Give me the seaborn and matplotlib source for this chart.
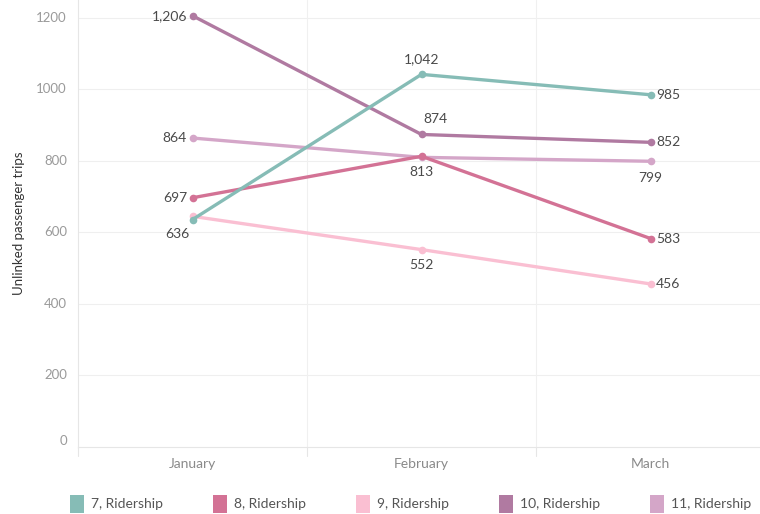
import matplotlib
matplotlib.use("Agg")
import matplotlib.pyplot as plt
import seaborn as sns
import pandas as pd
from matplotlib.patches import Patch

months = ["January", "February", "March"]
series_names = ["7, Ridership", "8, Ridership", "9, Ridership", "10, Ridership", "11, Ridership"]
r7 = [636, 1042, 985]
r8 = [697, 813, 583]
r9 = [645, 552, 456]
r10 = [1206, 874, 852]
r11 = [864, 810, 799]
colors = ["#86BCB6", "#D37295", "#FABFD2", "#B07AA1", "#D4A6C8"]
yticks = [0, 200, 400, 600, 800, 1000, 1200]

values = [r7, r8, r9, r10, r11]
rows = []
for name, vals in zip(series_names, values):
    for m, v in zip(months, vals):
        rows.append({"Month": m, "Series": name, "Value": v})
df = pd.DataFrame(rows)

sns.set_theme(style="white")
plt.rcParams["font.family"] = ["Lato", "DejaVu Sans"]

fig = plt.figure(figsize=(7.6, 5.14), dpi=100)
ax = fig.add_axes([78/760, (514-447)/514, 687/760, 447/514])

sns.lineplot(data=df, x="Month", y="Value", hue="Series", palette=colors,
             hue_order=series_names, marker="o", markersize=5.5, markeredgewidth=0,
             linewidth=2.4, ax=ax, legend=False, sort=False)
# first series drawn on top
for i, ln in enumerate(ax.get_lines()):
    ln.set_zorder(10 - i)

ax.set_xlim(-0.5, 2.5)
ax.set_ylim(0, 1250)
ax.set_yticks(yticks)
ax.set_yticklabels([str(t) for t in yticks], color="#9a9a9a", fontsize=9.5)
ax.set_xticks([0, 1, 2])
ax.set_xticklabels(months, color="#8a8a8a", fontsize=10)
ax.tick_params(axis="x", length=0, pad=8)
ax.tick_params(axis="y", length=4, color="#e6e6e6", pad=4)
ax.set_xlabel("")
ax.set_ylabel("Unlinked passenger trips", fontsize=9.5, color="#333333", labelpad=8)
ylabs = ax.get_yticklabels()
ylabs[0].set_verticalalignment("bottom")
for t in ylabs[1:]:
    t.set_verticalalignment("center")

for y in yticks[1:]:
    ax.axhline(y, color="#efefef", linewidth=0.8, zorder=0)
for x in [0.5, 1.5]:
    ax.axvline(x, color="#f0f0f0", linewidth=0.8, zorder=0)
    ax.plot([x, x], [0, -0.02], transform=ax.get_xaxis_transform(), color="#e6e6e6",
            linewidth=0.8, clip_on=False)
ax.plot([-0.5, -0.5], [0, -0.02], transform=ax.get_xaxis_transform(), color="#e6e6e6",
        linewidth=0.8, clip_on=False)
for side in ["top", "right"]:
    ax.spines[side].set_visible(False)
for side in ["left", "bottom"]:
    ax.spines[side].set_color("#e6e6e6")
    ax.spines[side].set_linewidth(0.8)

# labels: (series index, month index, dx, dy, ha, va)
lab = [
    (0, 0, -2, -6, "right", "top"),
    (0, 1, 0, 7, "center", "bottom"),
    (0, 2, 4, 0, "left", "center"),
    (1, 0, -4, 0, "right", "center"),
    (1, 1, 0, -7, "center", "top"),
    (1, 2, 4, 0, "left", "center"),
    (2, 1, 0, -7, "center", "top"),
    (2, 2, 4, 0, "left", "center"),
    (3, 0, -4, 0, "right", "center"),
    (3, 1, 10, 7, "center", "bottom"),
    (3, 2, 4, 0, "left", "center"),
    (4, 0, -4, 0, "right", "center"),
    (4, 2, 0, -8, "center", "top"),
]
for si, mi, dx, dy, ha, va in lab:
    v = values[si][mi]
    ax.annotate(f"{v:,}", xy=(mi, v), xytext=(dx, dy), textcoords="offset points",
                ha=ha, va=va, fontsize=10, color="#4a4a4a", zorder=20)

handles = [Patch(facecolor=c, edgecolor="none") for c in colors]
fig.legend(handles, series_names, loc="lower left", bbox_to_anchor=(0.076, -0.022),
           ncol=5, frameon=False, fontsize=10, handlelength=1.0, handleheight=1.6,
           handletextpad=0.5, columnspacing=3.6, labelcolor="#555555")

fig.savefig("out.png", dpi=100)
